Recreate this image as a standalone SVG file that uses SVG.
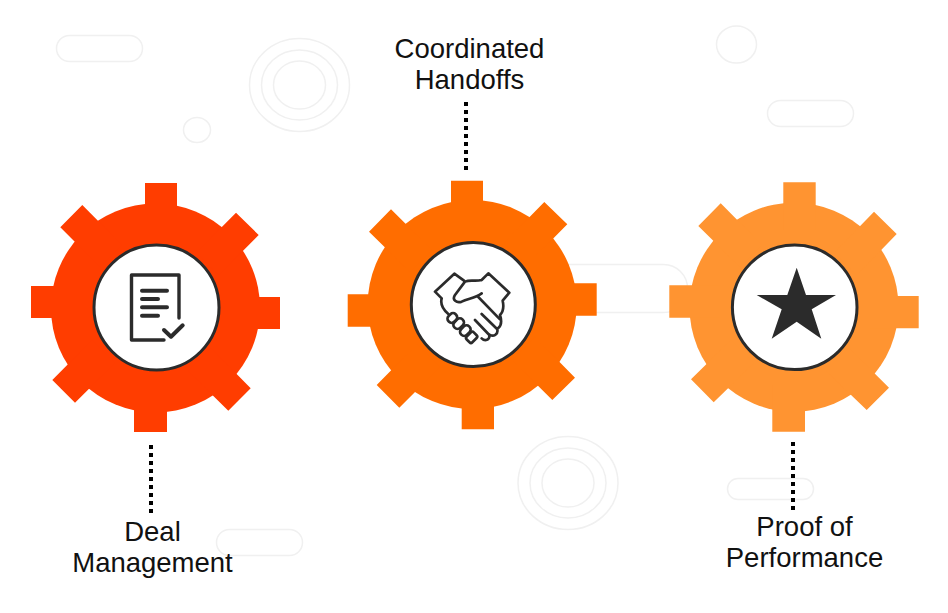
<svg xmlns="http://www.w3.org/2000/svg" width="948" height="613" viewBox="0 0 948 613">
<style>
.bg{fill:none;stroke:#f0f0f0;stroke-width:1.500}
.hole{fill:#fff;stroke:#2b2b2b;stroke-width:3}
.ic{fill:none;stroke:#2b2b2b;stroke-linejoin:round;stroke-linecap:round}
.dots{fill:none;stroke:#000;stroke-width:4;stroke-dasharray:4 4}
text{font-family:"Liberation Sans",Arial,sans-serif;font-size:27.500px;fill:#111;text-anchor:middle}
</style>
<rect width="948" height="613" fill="#fff"/>
<g id="background">
<rect class="bg" x="56.500" y="35.500" width="86" height="26" rx="13"/>
<ellipse class="bg" cx="299.500" cy="85" rx="50" ry="46.500"/><ellipse class="bg" cx="299.500" cy="85" rx="38" ry="35"/><ellipse class="bg" cx="299.500" cy="85" rx="26" ry="24"/>
<ellipse class="bg" cx="197" cy="130" rx="13.500" ry="12.500"/>
<ellipse class="bg" cx="736.500" cy="44.500" rx="20" ry="18.500"/>
<rect class="bg" x="767.500" y="100.500" width="86" height="26" rx="13"/>
<rect class="bg" x="527.500" y="264.500" width="160" height="48" rx="24"/>
<ellipse class="bg" cx="568" cy="483" rx="50" ry="46.500"/><ellipse class="bg" cx="568" cy="483" rx="38" ry="35"/><ellipse class="bg" cx="568" cy="483" rx="26" ry="24"/>
<rect class="bg" x="727.500" y="478.500" width="86" height="21" rx="10.500"/>
<rect class="bg" x="216.500" y="529.500" width="86" height="26" rx="13"/>
</g>
<g id="connectors">
<path class="dots" d="M151,445V513"/>
<path class="dots" d="M466,102V170"/>
<path class="dots" d="M793,442V510"/>
</g>
<g id="node-deal-management">
<g fill="#ff3d00">
<circle cx="155.500" cy="308" r="104.500"/>
<path d="M145,183H177V230H145ZM134,385H167V432H134ZM31,286H80V318H31ZM230,297H280V329H230ZM82.300,205L60.300,227.300 100,267 122,245ZM236,212.700L258.700,235 219,275 196,253ZM52.300,380L75,402.700 115,363 92,340ZM250.700,388.300L228.300,410.700 188,371 211,348Z"/>
</g>
<circle class="hole" cx="156.500" cy="307.500" r="62.500"/>
<path class="ic" stroke-width="3.400" stroke-linecap="butt" d="M179,318V275H131.500V340H164"/>
<path class="ic" stroke-width="4" stroke-linecap="butt" d="M142,290.700H167M142,299H158M142,307.300H167M142,315.700H158"/>
<path class="ic" stroke-width="4" stroke-linecap="butt" d="M164,330L171,336.700 182.700,325.300"/>
<text x="152.500" y="541">Deal</text>
<text x="152.500" y="572">Management</text>
</g>
<g id="node-coordinated-handoffs">
<g fill="#ff6d00">
<circle cx="472.200" cy="304.500" r="104.500"/>
<path d="M451,180.700H483V230H451ZM461.700,380H494V429.300H461.700ZM347.700,294.300H400V326.700H347.700ZM540,283.300H596.700V315.700H540ZM391,209.300L369,231.700 410,272 432,250ZM544.300,202L567.300,224.300 527,265 504,243ZM376.700,385L399.300,407.700 440,367 417,344ZM575,377.700L552.300,400 512,360 535,337Z"/>
</g>
<circle class="hole" cx="473.300" cy="304.500" r="62"/>
<g transform="translate(400 240) scale(.3333)"><path class="ic" stroke-width="8" d="M125,175L105,155 163,101 192,122M125,175C120,195 128,208 145,222M245,120L265,100 328,158 308,182C312,200 310,215 300,225C305,240 305,255 295,264M245,120C225,125 210,118 195,125L165,165C155,180 170,190 185,185C205,175 225,175 245,160M232,168L300,238M245,222L292,268C295,285 280,290 270,285M225,240L268,285C270,300 255,305 245,295"/>
<g class="ic" stroke-width="8" fill="#fff"><rect x="-15" y="-12" width="30" height="24" rx="11" transform="translate(157 234) rotate(-45)"/><rect x="-17" y="-12" width="34" height="24" rx="11" transform="translate(176 251) rotate(-45)"/><rect x="-17" y="-12" width="34" height="24" rx="11" transform="translate(196 272) rotate(-45)"/><rect x="-15" y="-12" width="30" height="24" rx="6" transform="translate(215 292) rotate(-45)"/></g></g>
<text x="469.500" y="58">Coordinated</text>
<text x="469.500" y="89">Handoffs</text>
</g>
<g id="node-proof-of-performance">
<g fill="#ff9431">
<circle cx="794" cy="307.200" r="104.500"/>
<path d="M783.300,182.300H815.700V230H783.300ZM772.300,385H805V431.700H772.300ZM669.300,285.300H720V317.700H669.300ZM870,296H918.700V328.300H870ZM720.700,203.300L698.300,226 740,267 762,245ZM874,211.700L896.700,234 857,275 834,253ZM691,379.300L713.700,402.300 754,363 731,340ZM889,387.700L866.700,410 826,371 849,348Z"/>
</g>
<circle class="hole" cx="794.700" cy="307.300" r="62.300"/>
<path fill="#2b2b2b" d="M796.700,267.700L806,295H836L811.700,309.300 821.300,338.700 796.700,321.700 771.700,338.700 781.700,309.300 756.700,295H787.300Z"/>
<text x="804.500" y="536">Proof of</text>
<text x="804.500" y="567">Performance</text>
</g>
</svg>
